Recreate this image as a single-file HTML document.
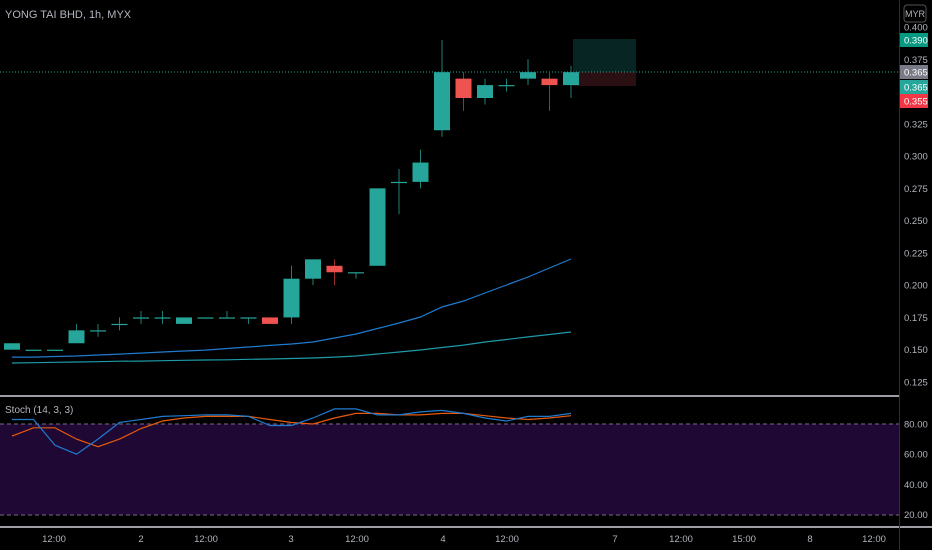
<!DOCTYPE html>
<html><head><meta charset="utf-8"><style>
html,body{margin:0;padding:0;background:#000;}
svg{display:block;font-family:"Liberation Sans",sans-serif;}
</style></head><body>
<svg id="chart" width="932" height="550" xmlns="http://www.w3.org/2000/svg">
<rect x="0" y="0" width="932" height="550" fill="#000"/>
<text x="5" y="18" font-size="11" fill="#b2b5be">YONG TAI BHD, 1h, MYX</text>
<rect x="573" y="39" width="63" height="33" fill="#072522"/>
<rect x="573" y="72" width="63" height="14" fill="#2a1012"/>
<line x1="0" y1="72" x2="899" y2="72" stroke="#26a69a" stroke-dasharray="1,2" stroke-width="1"/>
<rect x="0" y="424" width="899" height="91" fill="#1f0833"/>
<line x1="0" y1="424" x2="899" y2="424" stroke="#7b6a8a" stroke-dasharray="4,3"/>
<line x1="0" y1="515" x2="899" y2="515" stroke="#7b6a8a" stroke-dasharray="4,3"/>
<text x="5" y="413" font-size="10" fill="#b2b5be">Stoch (14, 3, 3)</text>
<g id="main"></g>
<line x1="0" y1="396" x2="899" y2="396" stroke="#d1d4dc" stroke-width="1.5"/>
<line x1="0" y1="527" x2="932" y2="527" stroke="#d1d4dc" stroke-width="1.5"/>
<line x1="899.5" y1="0" x2="899.5" y2="550" stroke="#2a2e39" stroke-width="1"/>
<rect x="904" y="5" width="22" height="17" rx="3" fill="none" stroke="#555"/>
<text x="915" y="17" font-size="9" fill="#b2b5be" text-anchor="middle">MYR</text>
<g id="axes"></g>
</svg>
<script>
const priceTicks = [0.400,0.375,0.350,0.325,0.300,0.275,0.250,0.225,0.200,0.175,0.150,0.125];
const stochTicks = [80,60,40,20];
const timeLabels = ["12:00","2","12:00","3","12:00","4","12:00","7","12:00","15:00","8","12:00"];
const timeLabelX = [54,141,206,291,357,443,507,615,681,744,810,874];
const opens  = [0.150,0.150,0.150,0.155,0.165,0.170,0.175,0.175,0.170,0.175,0.175,0.175,0.175,0.175,0.205,0.215,0.210,0.215,0.280,0.280,0.320,0.360,0.345,0.355,0.360,0.360,0.355];
const highs  = [0.155,0.150,0.150,0.170,0.170,0.175,0.180,0.180,0.175,0.175,0.180,0.175,0.175,0.215,0.220,0.220,0.210,0.275,0.290,0.305,0.390,0.365,0.360,0.360,0.375,0.365,0.370];
const lows   = [0.150,0.150,0.150,0.155,0.160,0.165,0.170,0.170,0.170,0.175,0.175,0.170,0.170,0.170,0.200,0.200,0.205,0.215,0.255,0.275,0.315,0.335,0.340,0.350,0.355,0.335,0.345];
const closes = [0.155,0.150,0.150,0.165,0.165,0.170,0.175,0.175,0.175,0.175,0.175,0.175,0.170,0.205,0.220,0.210,0.210,0.275,0.280,0.295,0.365,0.345,0.355,0.355,0.365,0.355,0.365];
const maFast = [0.1443,0.1443,0.1447,0.1451,0.1459,0.1466,0.1474,0.1482,0.1490,0.1497,0.1509,0.1521,0.1533,0.1544,0.1560,0.1591,0.1622,0.1664,0.1707,0.1753,0.1831,0.1877,0.1939,0.2001,0.2063,0.2133,0.2203];
const maSlow = [0.1397,0.1399,0.1402,0.1405,0.1407,0.1411,0.1412,0.1415,0.1418,0.1420,0.1422,0.1426,0.1428,0.1432,0.1436,0.1443,0.1451,0.1467,0.1482,0.1498,0.1517,0.1536,0.1560,0.1579,0.1599,0.1618,0.1637];
const stochK = [83,83,66,60,70,81,83,85,85.5,86,86,85,79,79,84,90,90,86,86,88,89,87,84,82,85,85,87];
const stochD = [72,77.5,77.5,70,65,70,77,82,84,85,85,85,83,81,80,84,87,87,86,86,87,87,85.5,84,83,84,85.5];
const badgeVals = [0.390,0.365,0.365,0.355];
const badgeColors = ["#089981","#787b86","#26a69a","#f23645"];
const badgeY = [40,72,87,101];

const NS="http://www.w3.org/2000/svg";
const yP = p => 27 + (0.4 - p) * 1290.8;
const yS = v => 424 + (80 - v) * 1.511;
const xI = i => 12 + 21.5 * i;
function mk(tag, attrs, parent){const e=document.createElementNS(NS,tag);for(const k in attrs)e.setAttribute(k,attrs[k]);parent.appendChild(e);return e;}
const main=document.getElementById('main'), axes=document.getElementById('axes');

function line(arr, yf, color, name){
  const d=arr.map((v,i)=>(i?'L':'M')+xI(i).toFixed(1)+','+yf(v).toFixed(1)).join(' ');
  const p=mk('path',{d:d,fill:'none',stroke:color,'stroke-width':1.2},main);
  
  
}
line(maSlow, yP, '#1e9aa8', 'ma-slow-line');
line(maFast, yP, '#1f7bd0', 'ma-fast-line');

for(let i=0;i<opens.length;i++){
  const up=closes[i]>=opens[i];
  const col=up?'#26a69a':'#ef5350';
  const g=mk('g',{},main);
  
  
  const x=xI(i);
  mk('line',{x1:x,x2:x,y1:yP(highs[i]),y2:yP(lows[i]),stroke:up?'#1f7f77':'#9b2f2f','stroke-width':1},g);
  const top=yP(Math.max(opens[i],closes[i])), bot=yP(Math.min(opens[i],closes[i]));
  mk('rect',{x:x-8,y:top,width:16,height:Math.max(1.2,bot-top),fill:col},g);
}
line(stochD, yS, '#e65a0c', 'stoch-d-line');
line(stochK, yS, '#1f7bd0', 'stoch-k-line');

priceTicks.forEach(p=>{
  const t=mk('text',{x:904,y:yP(p)+3.5,'font-size':9.5,fill:'#b2b5be'},axes);
  t.textContent=p.toFixed(3);
  
  
});
stochTicks.forEach(v=>{
  const t=mk('text',{x:904,y:yS(v)+3.5,'font-size':9.5,fill:'#b2b5be'},axes);
  t.textContent=v.toFixed(2);
  
  
});
timeLabels.forEach((s,i)=>{
  const t=mk('text',{x:timeLabelX[i],y:542,'font-size':9.5,fill:'#b2b5be','text-anchor':'middle'},axes);
  t.textContent=s;
  
  
});
badgeVals.forEach((v,i)=>{
  const g=mk('g',{},axes);
  
  
  mk('rect',{x:900,y:badgeY[i]-7,width:28,height:14,fill:badgeColors[i]},g);
  const t=mk('text',{x:904,y:badgeY[i]+3.5,'font-size':9.5,fill:'#fff'},g);
  t.textContent=v.toFixed(3);
});
</script>
</body></html>
